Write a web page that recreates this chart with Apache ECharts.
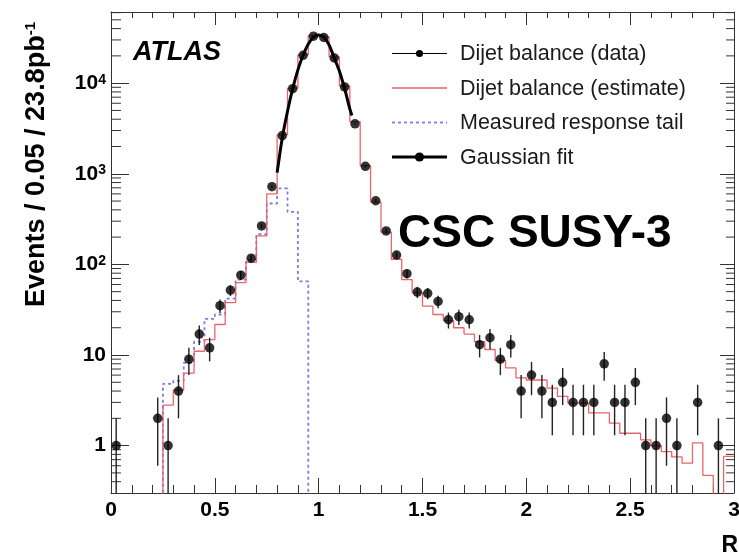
<!DOCTYPE html>
<html><head><meta charset="utf-8">
<script src="https://cdn.jsdelivr.net/npm/echarts@6/dist/echarts.min.js"></script>
<style>html,body{margin:0;padding:0;background:#fff}#c{width:739px;height:559px}</style>
</head><body><div id="c"></div>
<script>
// ---------------- data ----------------
const binWidth = 0.05;
const binCenters = [0.025,0.075,0.125,0.175,0.225,0.275,0.325,0.375,0.425,0.475,
  0.525,0.575,0.625,0.675,0.725,0.775,0.825,0.875,0.925,0.975,
  1.025,1.075,1.125,1.175,1.225,1.275,1.325,1.375,1.425,1.475,
  1.525,1.575,1.625,1.675,1.725,1.775,1.825,1.875,1.925,1.975,
  2.025,2.075,2.125,2.175,2.225,2.275,2.325,2.375,2.425,2.475,
  2.525,2.575,2.625,2.675,2.725,2.775,2.825,2.875,2.925,2.975];
// Dijet balance (data)
const dataCounts = [1,0,0,0,2,1,4,9,17,12,
  35,52,76,117,266,720,2640,8690,20300,33000,
  31900,19000,9080,3560,1210,504,234,127,79,49.5,
  48,39,24.5,26.5,24.5,13,15.5,9,13,4,
  6,4,3,5,3,3,3,8,3,3,
  5,1,1,2,1,0,3,0,1,0];
// vertical error bar half-lengths of the data points
const dataErr = [1,0,0,0,1.4,1,2,3,4.1,3.5,
  5.9,7.2,8.7,10.8,16,27,51,93,142,182,
  179,138,95,60,35,22,15,11,8.9,7,
  6.9,6.2,4.9,5.1,4.9,3.6,3.9,3,3.6,2,
  2.4,2,1.7,2.2,1.7,1.7,1.7,2.8,1.7,1.7,
  2.2,1,1,1.4,1,0,1.7,0,1,0];
// Dijet balance (estimate) histogram
const estimate = [0,0,0,0,0, 2.8,4.1,6.3,11,14.8,
  21.7,37.8,63,105,206, 600,2700,8800,20500,33500,
  32500,19500,9300,3750,1230, 487,227,114,68,48.7,
  34.6,28,24,20,17, 14,11.5,8.7,7.2,5.6,
  5.3,5.3,4.3,3.5,2.95, 2.95,2.3,2.3,1.77,1.37,
  1.37,1.16,1.0,0.86,0.75, 0.64,1.07,0.47,0,0.76];
// Measured response tail histogram
const responseTail = [0,0,0,0,0, 4.8,5.2,8.2,14,25,
  28,42,68,112,215, 470,690,380,65,0,
  0,0,0,0,0, 0,0,0,0,0, 0,0,0,0,0, 0,0,0,0,0,
  0,0,0,0,0, 0,0,0,0,0, 0,0,0,0,0, 0,0,0,0,0];
// Gaussian fit curve
const fitX = [0.80,0.825,0.85,0.875,0.90,0.925,0.95,0.975,1.00,1.025,1.05,1.075,1.10,1.125,1.15,1.16];
const fitY = [1030,2500,4900,8700,14000,20300,27000,32300,34000,32200,26500,19000,13500,8700,5200,4400];

const xTickLabels = ['0','0.5','1','1.5','2','2.5','3'];
const yTickValues = [1,10,100,1000,10000];
const yTickLabels = ['1','10','10{s|2}','10{s|3}','10{s|4}'];
const legendNames = ['Dijet balance (data)','Dijet balance (estimate)','Measured response tail','Gaussian fit'];
const yTitle = 'Events / 0.05 / 23.8pb{s|-1}';
const xTitle = 'R';

// ---------------- build ----------------
const FONT = '"Liberation Sans", Arial, Helvetica, sans-serif';
const Y_MIN = 0.3, Y_MAX = 61000;
const EMPTY = 0.01; // empty bins sit below the visible log range
const RED = '#e9656b', BLUE = '#7d7de0', AX = '#333';

function histPoints(vals) {
  const pts = binCenters.map((c, i) => [c - binWidth / 2, vals[i] > 0 ? vals[i] : EMPTY]);
  const last = vals[vals.length - 1];
  pts.push([binCenters[binCenters.length - 1] + binWidth / 2, last > 0 ? last : EMPTY]);
  return pts;
}
const dataPts = [], errPts = [];
binCenters.forEach((c, i) => {
  if (dataCounts[i] > 0) {
    dataPts.push([c, dataCounts[i]]);
    errPts.push([c, Math.max(dataCounts[i] - dataErr[i], EMPTY), dataCounts[i] + dataErr[i]]);
  }
});
const fitPts = fitX.map((x, i) => [x, fitY[i]]);
const yMinor = [];
for (let e = -1; e <= 4; e++) for (let m = 2; m <= 9; m++) {
  const v = m * Math.pow(10, e);
  if (v >= 0.31 && v < Y_MAX) yMinor.push([0, v]);
}

function yLabel(v) {
  for (let k = 0; k < yTickValues.length; k++) {
    if (Math.abs(v - yTickValues[k]) / yTickValues[k] < 1e-6) return yTickLabels[k];
  }
  return '';
}
function xLabel(v) {
  const k = Math.round(v / 0.5);
  return Math.abs(v - k * 0.5) < 1e-6 ? (xTickLabels[k] || '') : '';
}

const axisLineStyle = { color: AX, width: 1 };
const chart = echarts.init(document.getElementById('c'));
const legendRowY = [53.5, 88, 122.5, 157];
const graphics = [];
// legend icons
graphics.push({ type: 'line', shape: { x1: 392, y1: legendRowY[0], x2: 447, y2: legendRowY[0] }, style: { stroke: '#000', lineWidth: 1 } });
graphics.push({ type: 'circle', shape: { cx: 419.5, cy: legendRowY[0], r: 3.6 }, style: { fill: '#000' } });
graphics.push({ type: 'line', shape: { x1: 392, y1: legendRowY[1], x2: 447, y2: legendRowY[1] }, style: { stroke: RED, lineWidth: 1.3 } });
graphics.push({ type: 'line', shape: { x1: 392, y1: legendRowY[2], x2: 447, y2: legendRowY[2] }, style: { stroke: BLUE, lineWidth: 1.8, lineDash: [3, 3] } });
graphics.push({ type: 'line', shape: { x1: 392, y1: legendRowY[3], x2: 447, y2: legendRowY[3] }, style: { stroke: '#000', lineWidth: 3 } });
graphics.push({ type: 'circle', shape: { cx: 419.5, cy: legendRowY[3], r: 4.6 }, style: { fill: '#000' } });
legendNames.forEach((n, i) => graphics.push({
  type: 'text', x: 460, y: legendRowY[i] + 1,
  style: { text: n, fontSize: 21.5, fontFamily: FONT, fill: '#1a1a1a', align: 'left', verticalAlign: 'middle', textAlign: 'left', textVerticalAlign: 'middle' }
}));
graphics.push({ type: 'text', x: 133, y: 53,
  style: { text: 'ATLAS', fontSize: 27, fontWeight: 'bold', fontStyle: 'italic', fontFamily: FONT, fill: '#000', align: 'left', verticalAlign: 'middle', textAlign: 'left', textVerticalAlign: 'middle' } });
graphics.push({ type: 'text', x: 398, y: 234,
  style: { text: 'CSC SUSY-3', fontSize: 46, fontWeight: 'bold', fontFamily: FONT, fill: '#000', align: 'left', verticalAlign: 'middle', textAlign: 'left', textVerticalAlign: 'middle' } });
graphics.push({ type: 'text', x: 37, y: 307, rotation: Math.PI / 2,
  style: { text: yTitle, fontSize: 27, fontWeight: 'bold', fontFamily: FONT, fill: '#000', align: 'left', verticalAlign: 'middle', textAlign: 'left', textVerticalAlign: 'middle',
    rich: { s: { fontSize: 15, fontWeight: 'bold', fontFamily: FONT, verticalAlign: 'top', lineHeight: 15 } } } });
graphics.push({ type: 'text', x: 738, y: 546,
  style: { text: xTitle, fontSize: 23, fontWeight: 'bold', fontFamily: FONT, fill: '#000', align: 'right', verticalAlign: 'middle', textAlign: 'right', textVerticalAlign: 'middle' } });

const option = {
  animation: false,
  backgroundColor: '#fff',
  textStyle: { fontFamily: FONT },
  grid: { left: 111, top: 12, width: 623, height: 481, containLabel: false, outerBoundsMode: 'none' },
  xAxis: [
    { type: 'value', position: 'bottom', min: 0, max: 3, interval: 0.5,
      axisLine: { show: true, onZero: false, lineStyle: axisLineStyle },
      axisTick: { show: true, inside: true, length: 15, lineStyle: { color: AX } },
      minorTick: { show: true, splitNumber: 5, length: 8, lineStyle: { color: AX } },
      splitLine: { show: false }, minorSplitLine: { show: false },
      axisLabel: { show: true, margin: 7, fontSize: 21, fontWeight: 'bold', fontFamily: FONT, color: '#000', formatter: xLabel } },
    { type: 'value', position: 'top', min: 0, max: 3, interval: 0.5,
      axisLine: { show: true, onZero: false, lineStyle: axisLineStyle },
      axisTick: { show: true, inside: true, length: 13, lineStyle: { color: AX } },
      minorTick: { show: true, splitNumber: 5, length: 6, lineStyle: { color: AX } },
      splitLine: { show: false }, minorSplitLine: { show: false },
      axisLabel: { show: false } }
  ],
  yAxis: [
    { type: 'log', logBase: 10, min: Y_MIN, max: Y_MAX, position: 'left',
      axisLine: { show: true, onZero: false, lineStyle: axisLineStyle },
      axisTick: { show: true, inside: true, length: 18, lineStyle: { color: AX } },
      splitLine: { show: false }, minorTick: { show: false },
      axisLabel: { show: true, margin: 5, fontSize: 21, fontWeight: 'bold', fontFamily: FONT, color: '#000', formatter: yLabel,
        rich: { s: { fontSize: 14, fontWeight: 'bold', fontFamily: FONT, color: '#000', verticalAlign: 'top', lineHeight: 14 } } } },
    { type: 'log', logBase: 10, min: Y_MIN, max: Y_MAX, position: 'right',
      axisLine: { show: true, onZero: false, lineStyle: axisLineStyle },
      axisTick: { show: true, inside: true, length: 14, lineStyle: { color: AX } },
      splitLine: { show: false }, minorTick: { show: false },
      axisLabel: { show: false } }
  ],
  graphic: graphics,
  series: [
    { type: 'custom', name: 'minor ticks', silent: true, z: 1, data: yMinor,
      renderItem: (params, api) => {
        const v = api.value(1);
        const pL = api.coord([0, v]), pR = api.coord([3, v]);
        return { type: 'group', children: [
          { type: 'line', shape: { x1: pL[0], y1: pL[1], x2: pL[0] + 10, y2: pL[1] }, style: { stroke: AX, lineWidth: 1 } },
          { type: 'line', shape: { x1: pR[0] - 8, y1: pR[1], x2: pR[0], y2: pR[1] }, style: { stroke: AX, lineWidth: 1 } }
        ] };
      } },
    { type: 'line', name: legendNames[2], data: histPoints(responseTail), step: 'end', symbol: 'none', showSymbol: false, z: 2, clip: true,
      lineStyle: { color: BLUE, width: 1.8, type: [3, 3] } },
    { type: 'line', name: legendNames[1], data: histPoints(estimate), step: 'end', symbol: 'none', showSymbol: false, z: 3, clip: true,
      lineStyle: { color: RED, width: 1.3 } },
    { type: 'line', name: legendNames[3], data: fitPts, smooth: 0.3, symbol: 'none', showSymbol: false, z: 4,
      lineStyle: { color: '#000', width: 3 } },
    { type: 'custom', name: 'errors', silent: true, z: 5, data: errPts,
      renderItem: (params, api) => {
        const x = api.value(0);
        const lo = api.coord([x, api.value(1)]), hi = api.coord([x, api.value(2)]);
        const bottom = params.coordSys.y + params.coordSys.height;
        return { type: 'line', shape: { x1: lo[0], y1: Math.min(lo[1], bottom), x2: hi[0], y2: hi[1] },
          style: { stroke: '#222', lineWidth: 1.4 } };
      } },
    { type: 'scatter', name: legendNames[0], data: dataPts, symbol: 'circle', symbolSize: 9.5, z: 6,
      itemStyle: { color: '#000' } }
  ]
};
chart.setOption(option);
</script></body></html>
